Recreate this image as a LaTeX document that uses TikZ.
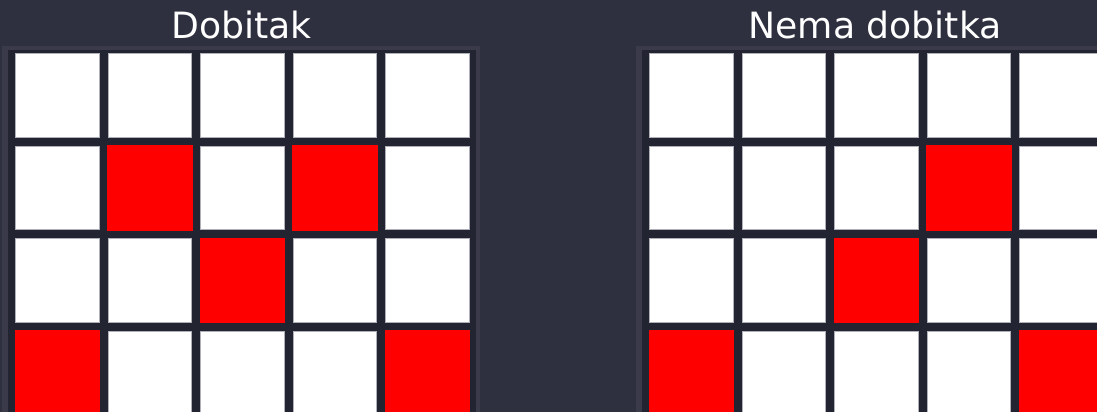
\documentclass[tikz,border=0pt]{standalone}
\usepackage{fontspec}
\setmainfont{DejaVu Sans}
\definecolor{bgdark}{HTML}{2E3040}
\definecolor{frameedge}{HTML}{3A3A4A}
\definecolor{gridfill}{HTML}{222432}
\definecolor{celledge}{HTML}{B0B0B8}

\begin{document}
\begin{tikzpicture}[x=1pt, y=-1pt,
		cell/.style={
			rectangle,
			draw=celledge,
			fill=white,
			line width=0.8pt,
			minimum size=83.6pt,
			inner sep=0pt,
			anchor=north west
		},
		hit/.style={fill=red, draw=red, line width=0.8pt},
		title/.style={text=white, anchor=base, font=\fontsize{36.2}{42}\selectfont}]
	
	\useasboundingbox (0,0) rectangle (1097,412);
	\clip (0,0) rectangle (1097,412);
	\fill [bgdark] (0,0) rectangle (1097,412);
	
	% two panels, the right one is cut off by the page
	\foreach \side/\dx in {L/0, R/634} {
		\fill [frameedge] (2+\dx,46) rectangle (480+\dx,420);
		\fill [gridfill] (8+\dx,50.5) rectangle (476+\dx,420);
		\foreach \r in {0,...,3} {
			\foreach \c in {0,...,4} {
				\node [cell] (\side-\r-\c) at ({15.3+\dx+92.5*\c},{53.3+92.4*\r}) {};
			}
		}
	}
	
	\node [title] (titleL) at (241.5,38) {Dobitak};
	\node [title] (titleR) at (875,38) {Nema dobitka};
	
	% winning pattern
	\foreach \cl in {L-1-1, L-1-3, L-2-2, L-3-0, L-3-4} {
		\filldraw [hit] (\cl.north west) rectangle (\cl.south east);
	}
	% no win
	\foreach \cl in {R-1-3, R-2-2, R-3-0, R-3-4} {
		\filldraw [hit] (\cl.north west) rectangle (\cl.south east);
	}
\end{tikzpicture}
\end{document}
